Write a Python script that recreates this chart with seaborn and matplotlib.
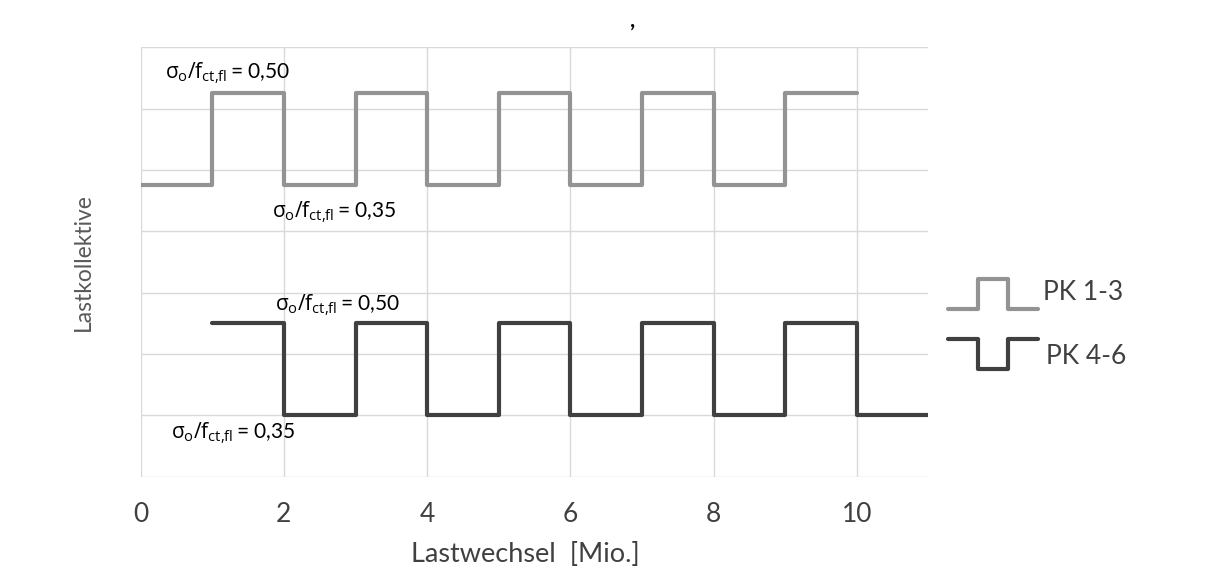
import matplotlib
matplotlib.use("Agg")
import matplotlib.pyplot as plt
import seaborn as sns
import pandas as pd

# ---- data ----
gray_x = [0, 1, 2, 3, 4, 5, 6, 7, 8, 9, 10]
gray_y = [4.75, 6.25, 4.75, 6.25, 4.75, 6.25, 4.75, 6.25, 4.75, 6.25, 6.25]
dark_x = [1, 2, 3, 4, 5, 6, 7, 8, 9, 10, 11]
dark_y = [2.5, 1.0, 2.5, 1.0, 2.5, 1.0, 2.5, 1.0, 2.5, 1.0, 1.0]
x_ticks = [0, 2, 4, 6, 8, 10]
y_grid = [0, 1, 2, 3, 4, 5, 6, 7]
series_names = ["PK 1-3", "PK 4-6"]
annotations = [
    (0.34, 6.58, "0,50"),
    (1.84, 4.31, "0,35"),
    (1.88, 2.80, "0,50"),
    (0.42, 0.71, "0,35"),
]
legend_icon_up_x = [0, 1, 1, 2, 2, 3]
legend_icon_up_y = [0, 0, 1, 1, 0, 0]
legend_icon_dn_y = [1, 1, 0, 0, 1, 1]

sns.set_theme(style="white")
plt.rcParams["font.family"] = ["Lato", "DejaVu Sans"]
plt.rcParams["mathtext.fontset"] = "custom"
plt.rcParams["mathtext.rm"] = "Open Sans"
plt.rcParams["mathtext.it"] = "Open Sans"
plt.rcParams["mathtext.bf"] = "Open Sans:bold"

GRAY = "#939393"
DARK = "#404040"
TXT = "#595959"

fig = plt.figure(figsize=(12.08, 5.85), dpi=100)
W, H = 1208, 585
ax = fig.add_axes([140.7 / W, 1 - 476.7 / H, (928.3 - 140.7) / W, (476.7 - 47.3) / H])

df_g = pd.DataFrame({"x": gray_x, "y": gray_y})
df_d = pd.DataFrame({"x": dark_x, "y": dark_y})
sns.lineplot(data=df_g, x="x", y="y", ax=ax, color=GRAY, lw=3.0,
             drawstyle="steps-post", sort=False, zorder=3)
sns.lineplot(data=df_d, x="x", y="y", ax=ax, color=DARK, lw=3.0,
             drawstyle="steps-post", sort=False, zorder=3)

ax.set_xlim(0, 11)
ax.set_ylim(0, 7)
ax.set_xticks(x_ticks)
ax.set_yticks(y_grid)
ax.set_yticklabels([])
ax.grid(True, color="#d9d9d9", lw=1.0, zorder=0)
for s in ax.spines.values():
    s.set_visible(False)
ax.tick_params(axis="x", length=0, pad=18, labelsize=19, labelcolor=DARK)
ax.tick_params(axis="y", length=0)
ax.set_xlabel("Lastwechsel  [Mio.]", fontsize=19.5, color=DARK)
ax.xaxis.set_label_coords(0.4886, -0.152)
ax.set_ylabel("Lastkollektive", fontsize=16.5, color=TXT, labelpad=30)

for xx, yy, val in annotations:
    ax.text(xx, yy, r"$\sigma_o/f_{ct{,}fl}\,$" + "= " + val, fontsize=15,
            color="black", va="center", ha="left")

# legend icons
lax = fig.add_axes([945 / W, 1 - 375 / H, 95 / W, 105 / H])
lax.set_xlim(-0.1, 3.05)
lax.set_ylim(-0.2, 3.3)
lax.axis("off")
lax.plot(legend_icon_up_x, [v + 2 for v in legend_icon_up_y], color=GRAY, lw=3.0)
lax.plot(legend_icon_up_x, legend_icon_dn_y, color=DARK, lw=3.0)
fig.text(1043 / W, 1 - 293 / H, series_names[0], fontsize=19, color=DARK, va="center")
fig.text(1046 / W, 1 - 356 / H, series_names[1], fontsize=19, color=DARK, va="center")

fig.text(633 / W, 1 - 20 / H, ",", fontsize=16, fontweight="bold", color="black",
         ha="center", va="center")

fig.savefig("out.png", dpi=100)
